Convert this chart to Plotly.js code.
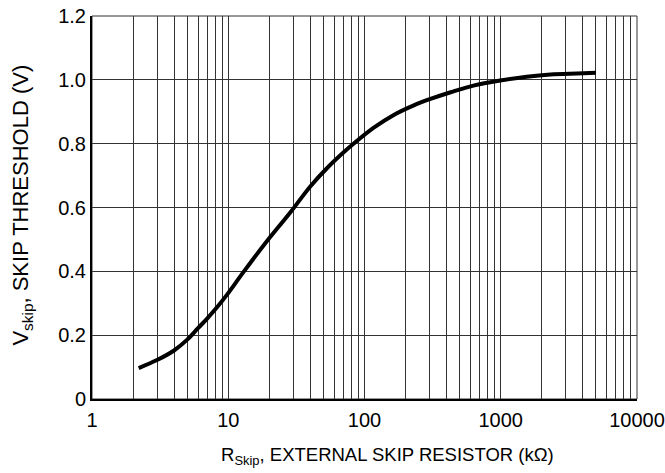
<!DOCTYPE html>
<html>
<head>
<meta charset="utf-8">
<script src="https://cdn.plot.ly/plotly-3.0.1.min.js"></script>
<style>html,body{margin:0;padding:0;background:#fff;}#chart{width:665px;height:473px;}</style>
</head>
<body>
<div id="chart"></div>
<script>
// Curve: R_skip (kOhm) vs V_skip (V)
const rSkip = [2.2, 3, 4, 5, 6, 7, 8.3, 9.8, 13, 18.7, 28.6, 40, 53, 70, 86, 117, 164, 230, 305, 429, 630, 990, 1550, 2320, 3630, 5000];
const vSkip = [0.097, 0.122, 0.152, 0.186, 0.222, 0.252, 0.288, 0.327, 0.399, 0.488, 0.585, 0.666, 0.723, 0.772, 0.805, 0.850, 0.890, 0.920, 0.940, 0.961, 0.982, 0.998, 1.010, 1.017, 1.020, 1.022];

// X axis: decades labelled, every digit gridded
const xMajorVals = [1, 10, 100, 1000, 10000];
const xMajorText = ["1", "10", "100", "1000", "10000"];
const xMinorDigits = [2, 3, 4, 5, 6, 7, 8, 9];
// Y axis ticks
const yTickVals = [0, 0.2, 0.4, 0.6, 0.8, 1.0, 1.2];
const yTickText = ["0", "0.2", "0.4", "0.6", "0.8", "1.0", "1.2"];
// Titles
const xTitle = "R<sub>Skip</sub>, EXTERNAL SKIP RESISTOR (kΩ)";
const yTitle = "V<sub>skip</sub>, SKIP THRESHOLD (V)";

const xMinorVals = [];
xMajorVals.slice(0, -1).forEach(d => xMinorDigits.forEach(k => xMinorVals.push(d * k)));

const fam = "Liberation Sans, Arial, Helvetica, sans-serif";
const tickFont = {family: fam, size: 20, color: "#000"};

const trace = {
  x: rSkip, y: vSkip, type: "scatter", mode: "lines",
  line: {color: "#000", width: 4, shape: "spline", smoothing: 1},
  hoverinfo: "skip"
};

const layout = {
  width: 665, height: 473,
  margin: {l: 92, r: 28, t: 16, b: 74},
  paper_bgcolor: "#fff", plot_bgcolor: "#fff",
  showlegend: false,
  font: tickFont,
  xaxis: {
    type: "log",
    range: [0, 4],
    tickmode: "array", tickvals: xMajorVals, ticktext: xMajorText,
    ticks: "", showgrid: true, gridcolor: "#333", gridwidth: 1,
    minor: {tickmode: "array", tickvals: xMinorVals, showgrid: true, gridcolor: "#333", gridwidth: 1, ticks: ""},
    showline: true, linecolor: "#000", linewidth: 2,
    zeroline: false, tickfont: tickFont, ticklabelstandoff: 2,
    fixedrange: true
  },
  yaxis: {
    range: [0, 1.2],
    tickmode: "array", tickvals: yTickVals, ticktext: yTickText,
    ticks: "", showgrid: true, gridcolor: "#333", gridwidth: 1,
    showline: true, linecolor: "#000", linewidth: 2,
    zeroline: false, tickfont: tickFont,
    fixedrange: true
  },
  annotations: [
    {text: xTitle, xref: "paper", yref: "paper", x: 0.5413, y: -0.1488,
     xanchor: "center", yanchor: "middle", showarrow: false,
     font: {family: fam, size: 18.5, color: "#000"}},
    {text: yTitle, xref: "paper", yref: "paper", x: -0.1284, y: 0.505,
     xanchor: "center", yanchor: "middle", showarrow: false, textangle: -90,
     font: {family: fam, size: 22, color: "#000"}}
  ],
  shapes: [
    {type: "rect", xref: "paper", yref: "paper", x0: 0, x1: 1, y0: 0, y1: 1,
     line: {color: "#333", width: 1}, fillcolor: "rgba(0,0,0,0)", layer: "below"}
  ]
};

Plotly.newPlot("chart", [trace], layout, {displayModeBar: false, staticPlot: true});
</script>
</body>
</html>
